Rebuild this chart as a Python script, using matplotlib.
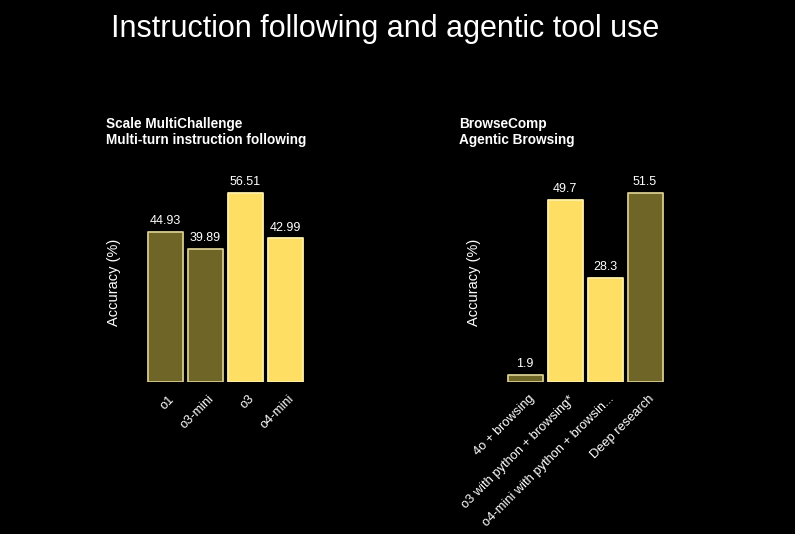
import matplotlib
matplotlib.use("Agg")
import matplotlib.pyplot as plt
import matplotlib.transforms as mtransforms

plt.rcParams['font.family'] = ['Liberation Sans', 'DejaVu Sans']

title = "Instruction following and agentic tool use"

left_title = "Scale MultiChallenge\nMulti-turn instruction following"
left_labels = ["o1", "o3-mini", "o3", "o4-mini"]
left_values = [44.93, 39.89, 56.51, 42.99]
left_value_text = ["44.93", "39.89", "56.51", "42.99"]
left_highlight = [False, False, True, True]

right_title = "BrowseComp\nAgentic Browsing"
right_labels = ["4o + browsing", "o3 with python + browsing*",
                "o4-mini with python + browsin...", "Deep research"]
right_values = [1.9, 49.7, 28.3, 51.5]
right_value_text = ["1.9", "49.7", "28.3", "51.5"]
right_highlight = [False, True, True, False]

DARK_FILL = "#6f6526"
DARK_EDGE = "#d6cc8f"
YEL_FILL = "#ffdf63"
YEL_EDGE = "#fff0a8"

W, H = 795, 534
fig = plt.figure(figsize=(W / 100, H / 100), dpi=100, facecolor="black")

def px_axes(x0, x1, ytop, ybot):
    return fig.add_axes([x0 / W, 1 - ybot / H, (x1 - x0) / W, (ybot - ytop) / H])

def draw(ax, labels, values, texts, highlight, ttl, title_x):
    ax.set_facecolor("black")
    x = list(range(len(values)))
    fills = [YEL_FILL if h else DARK_FILL for h in highlight]
    edges = [YEL_EDGE if h else DARK_EDGE for h in highlight]
    bars = ax.bar(x, values, width=0.875, color=fills, edgecolor=edges,
                  linewidth=1.3)
    for b in bars:
        b.set_joinstyle("round")
    for xi, v, t in zip(x, values, texts):
        ax.annotate(t, (xi, v), xytext=(0, 3.5), textcoords="offset points",
                    ha="center", va="bottom", color="white", fontsize=9)
    ax.set_xlim(-0.5, len(values) - 0.5)
    ax.set_ylim(0, max(values) * 1.06)
    ax.set_xticks(x)
    ax.set_xticklabels(labels, rotation=45, ha="right", va="center",
                       rotation_mode="anchor", color="white", fontsize=9.3)
    ax.tick_params(axis="x", length=0, pad=11)
    off = mtransforms.ScaledTranslation(7.5 / 100, 0, fig.dpi_scale_trans)
    for lab in ax.get_xticklabels():
        lab.set_transform(lab.get_transform() + off)
    ax.set_yticks([])
    for s in ax.spines.values():
        s.set_visible(False)
    ax.set_ylabel("Accuracy (%)", color="white", fontsize=10.5)
    ax.yaxis.set_label_coords(-0.15, 0.5)
    fig.text(title_x / W, 1 - 117 / H, ttl, color="white", fontsize=9.8,
             fontweight="bold", ha="left", va="top", linespacing=1.15)

ax1 = px_axes(145, 305, 182, 382)
draw(ax1, left_labels, left_values, left_value_text, left_highlight,
     left_title, 106)
ax2 = px_axes(505, 665, 182, 382)
draw(ax2, right_labels, right_values, right_value_text, right_highlight,
     right_title, 459)

fig.text(385 / W, 1 - 29 / H, title, color="white", fontsize=22,
         ha="center", va="center")

fig.savefig("out.png", dpi=100, facecolor="black")
